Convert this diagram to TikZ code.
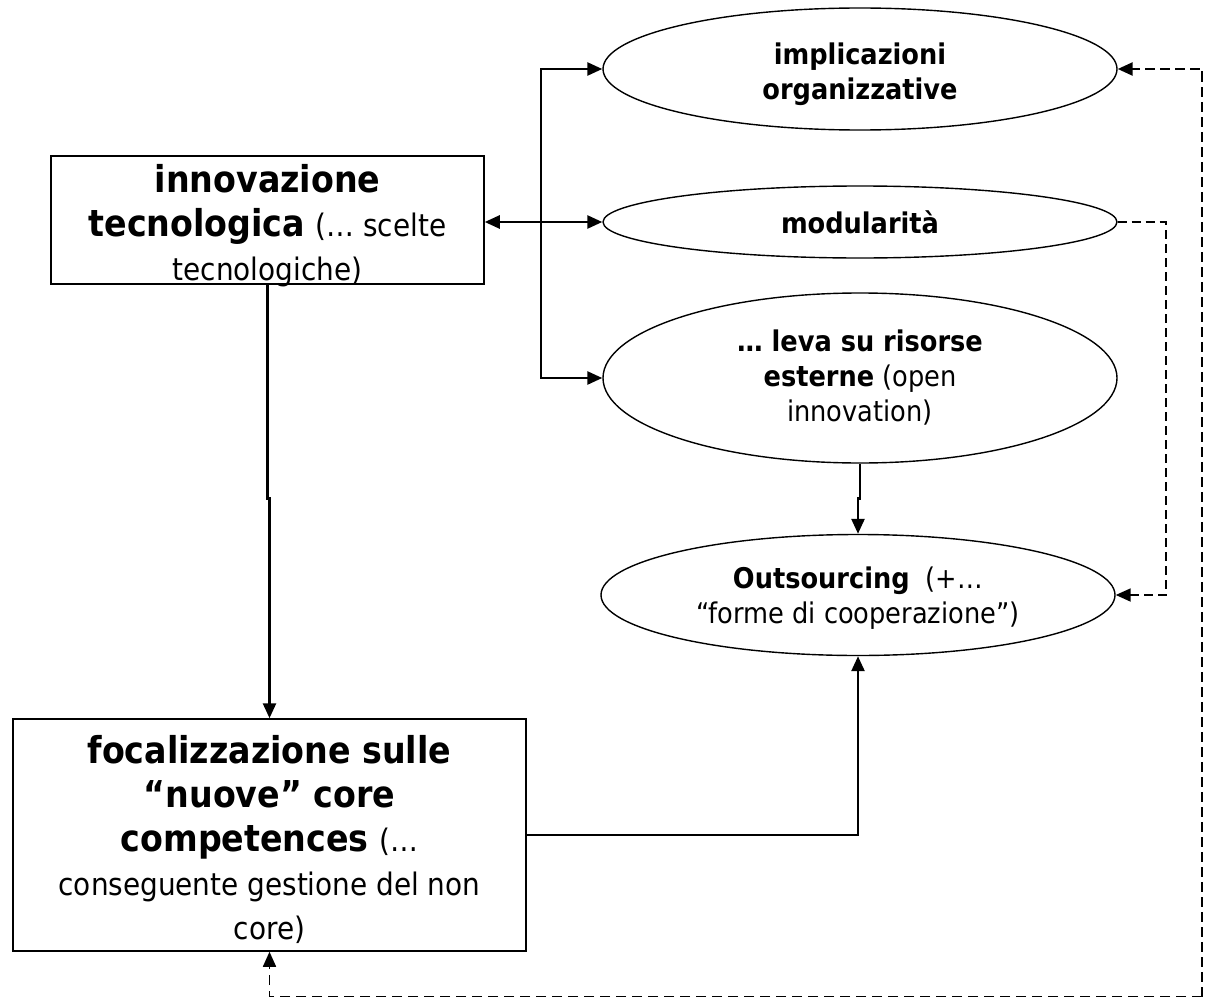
\documentclass[tikz,border=0pt]{standalone}
\usepackage{fontspec}
\setmainfont{DejaVu Sans Condensed}
\usetikzlibrary{shapes.geometric,arrows.meta}
% text sizes for the rectangles and the ovals
\newcommand\rectbold[1]{{\fontsize{37}{45}\selectfont\bfseries #1}}
\newcommand\rectreg[1]{{\fontsize{31}{45}\selectfont #1}}
\newcommand\toppad[1]{\rule{0pt}{#1}}
\begin{document}
\begin{tikzpicture}[x=1pt,y=-1pt,
  rectbox/.style={draw, line width=1.5pt, rectangle, inner sep=0pt, align=center,
    node font=\fontsize{37}{45}\selectfont},
  boxtext/.style={inner sep=0pt, align=center, node font=\fontsize{37}{44}\selectfont},
  oval/.style={draw, line width=1.4pt, ellipse, inner sep=0pt, align=center,
    minimum width=514pt, node font=\fontsize{28.5}{35}\selectfont},
  link/.style={line width=2.6pt, -{Triangle[length=15pt,width=13pt]}},
  dlink/.style={line width=1.8pt, dash pattern=on 9pt off 5pt, -{Triangle[length=15pt,width=13pt]}},
  dlinkouter/.style={line width=2.5pt, dash pattern=on 10pt off 5pt, -{Triangle[length=15pt,width=13pt]}},
  dlinkbottom/.style={line width=1.6pt, dash pattern=on 10pt off 6pt, -{Triangle[length=15pt,width=13pt]}}
]
\useasboundingbox (0,0) rectangle (1205,998);

% left column
\node[rectbox, minimum width=433pt, minimum height=128pt] (tech) at (267.5,220) {};
\node[boxtext] (techtext) at (267.5,225.5)
  {\rectbold{innovazione}\\ \rectbold{tecnologica} \rectreg{(… scelte}\\ \rectreg{tecnologiche)}};
\node[rectbox, minimum width=513pt, minimum height=232pt, node font=\fontsize{37}{44}\selectfont] (focus) at (269.5,835)
  {\toppad{37pt}\rectbold{focalizzazione sulle}\\ \rectbold{“nuove” core}\\ \rectbold{competences} \rectreg{(…}\\
   \rectreg{conseguente gestione del non}\\ \rectreg{core)}};

% right column
\node[oval, minimum height=122pt] (org) at (860,69)
  {\toppad{32pt}\textbf{implicazioni}\\ \textbf{organizzative}};
\node[oval, minimum height=72pt] (mod) at (860,222)
  {\textbf{modularità}};
\node[oval, minimum height=170pt] (ext) at (860,378)
  {\textbf{… leva su risorse}\\ \textbf{esterne} (open\\ innovation)};
\node[oval, minimum height=121pt] (out) at (858,595)
  {\toppad{28pt}\textbf{Outsourcing}\ \ (+…\\ “forme di cooperazione”)};

% branching connector
\coordinate (fork) at (541,222);
\draw[link] (fork) -- (fork -| tech.east);
\draw[link] (fork) |- (org.west);
\draw[link] (fork) -- (mod.west);
\draw[link] (fork) |- (ext.west);

% vertical links
\draw[link] (tech.south) -- ++(0,214) -| (focus.north);
\draw[link] (ext.south) -- ++(0,35) -| (out.north);
\draw[link] (focus.east) -| (out.south);

% dashed feedback links
\draw[dlink] (mod.east) -- ++(48,0) |- (out.east);
\coordinate (corner) at (1202,996.5);
\draw[dlinkouter] (corner) |- (org.east);
\draw[dlinkbottom] (corner) -| (focus.south);
\end{tikzpicture}
\end{document}
